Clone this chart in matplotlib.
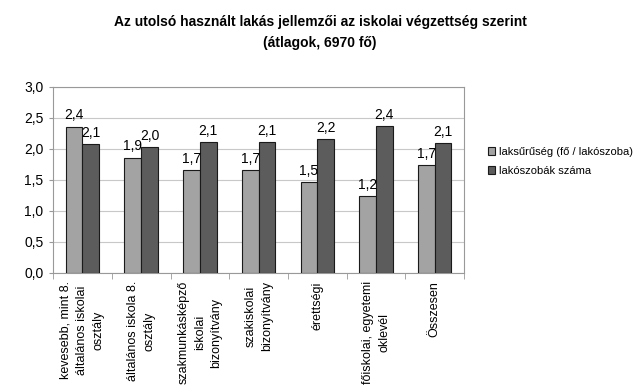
import numpy as np
from matplotlib import pyplot as plt
from matplotlib.ticker import FuncFormatter, FixedLocator

# ---- data ----
categories = [
    "kevesebb, mint 8.\náltalános iskolai\nosztály",
    "általános iskola 8.\nosztály",
    "szakmunkásképző\niskolai\nbizonyítvány",
    "szakiskolai\nbizonyítvány",
    "érettségi",
    "főiskolai, egyetemi\noklevél",
    "Összesen",
]
laksuruseg = [2.36, 1.86, 1.66, 1.66, 1.46, 1.24, 1.74]
lakoszobak = [2.08, 2.03, 2.11, 2.11, 2.16, 2.37, 2.09]
series_names = ["laksűrűség (fő / lakószoba)", "lakószobák száma"]

plt.rcParams["font.family"] = ["Liberation Sans", "DejaVu Sans"]

fig = plt.figure(figsize=(6.4, 3.86), dpi=100)
ax = fig.add_axes([0.083, 0.293, 0.642, 0.482])

x = np.arange(len(categories))
w = 0.285
b1 = ax.bar(x - w / 2, laksuruseg, w, color="#a3a3a3", edgecolor="#1a1a1a", linewidth=0.8,
            label=series_names[0], zorder=3)
b2 = ax.bar(x + w / 2, lakoszobak, w, color="#5c5c5c", edgecolor="#1a1a1a", linewidth=0.8,
            label=series_names[1], zorder=3)

fmt = lambda v: f"{v:.1f}".replace(".", ",")
for bars, vals in ((b1, laksuruseg), (b2, lakoszobak)):
    for rect, v in zip(bars, vals):
        ax.annotate(fmt(v), (rect.get_x() + rect.get_width() / 2, v),
                    xytext=(0, 3), textcoords="offset points",
                    ha="center", va="bottom", fontsize=10, zorder=4)

ax.set_xlim(-0.5, len(categories) - 0.5)
ax.set_ylim(0, 3.0)
ax.set_yticks(np.arange(0, 3.01, 0.5))
ax.yaxis.set_major_formatter(FuncFormatter(lambda v, p: f"{v:.1f}".replace(".", ",")))
ax.grid(axis="y", color="#c8c8c8", linewidth=0.8, zorder=0)

ax.set_xticks(x)
ax.set_xticklabels(categories, rotation=90, ha="center", va="top",
                   multialignment="center", fontsize=9, linespacing=1.5)
ax.tick_params(axis="x", length=0, pad=6)
ax.xaxis.set_minor_locator(FixedLocator(np.arange(-0.5, len(categories), 1.0)))
ax.tick_params(axis="x", which="minor", length=4, color="#999999")
ax.tick_params(axis="y", length=3, color="#999999", labelsize=10, pad=4)

for s in ax.spines.values():
    s.set_color("#999999")
    s.set_linewidth(0.8)

fig.legend(loc="upper left", bbox_to_anchor=(0.755, 0.63), frameon=False,
           fontsize=8, handlelength=0.7, handleheight=0.7, handletextpad=0.3,
           labelspacing=0.75, borderaxespad=0)

fig.text(0.5, 0.96, "Az utolsó használt lakás jellemzői az iskolai végzettség szerint\n(átlagok, 6970 fő)",
         ha="center", va="top", fontsize=10, fontweight="bold", linespacing=1.6)

fig.savefig("out.png", dpi=100)
